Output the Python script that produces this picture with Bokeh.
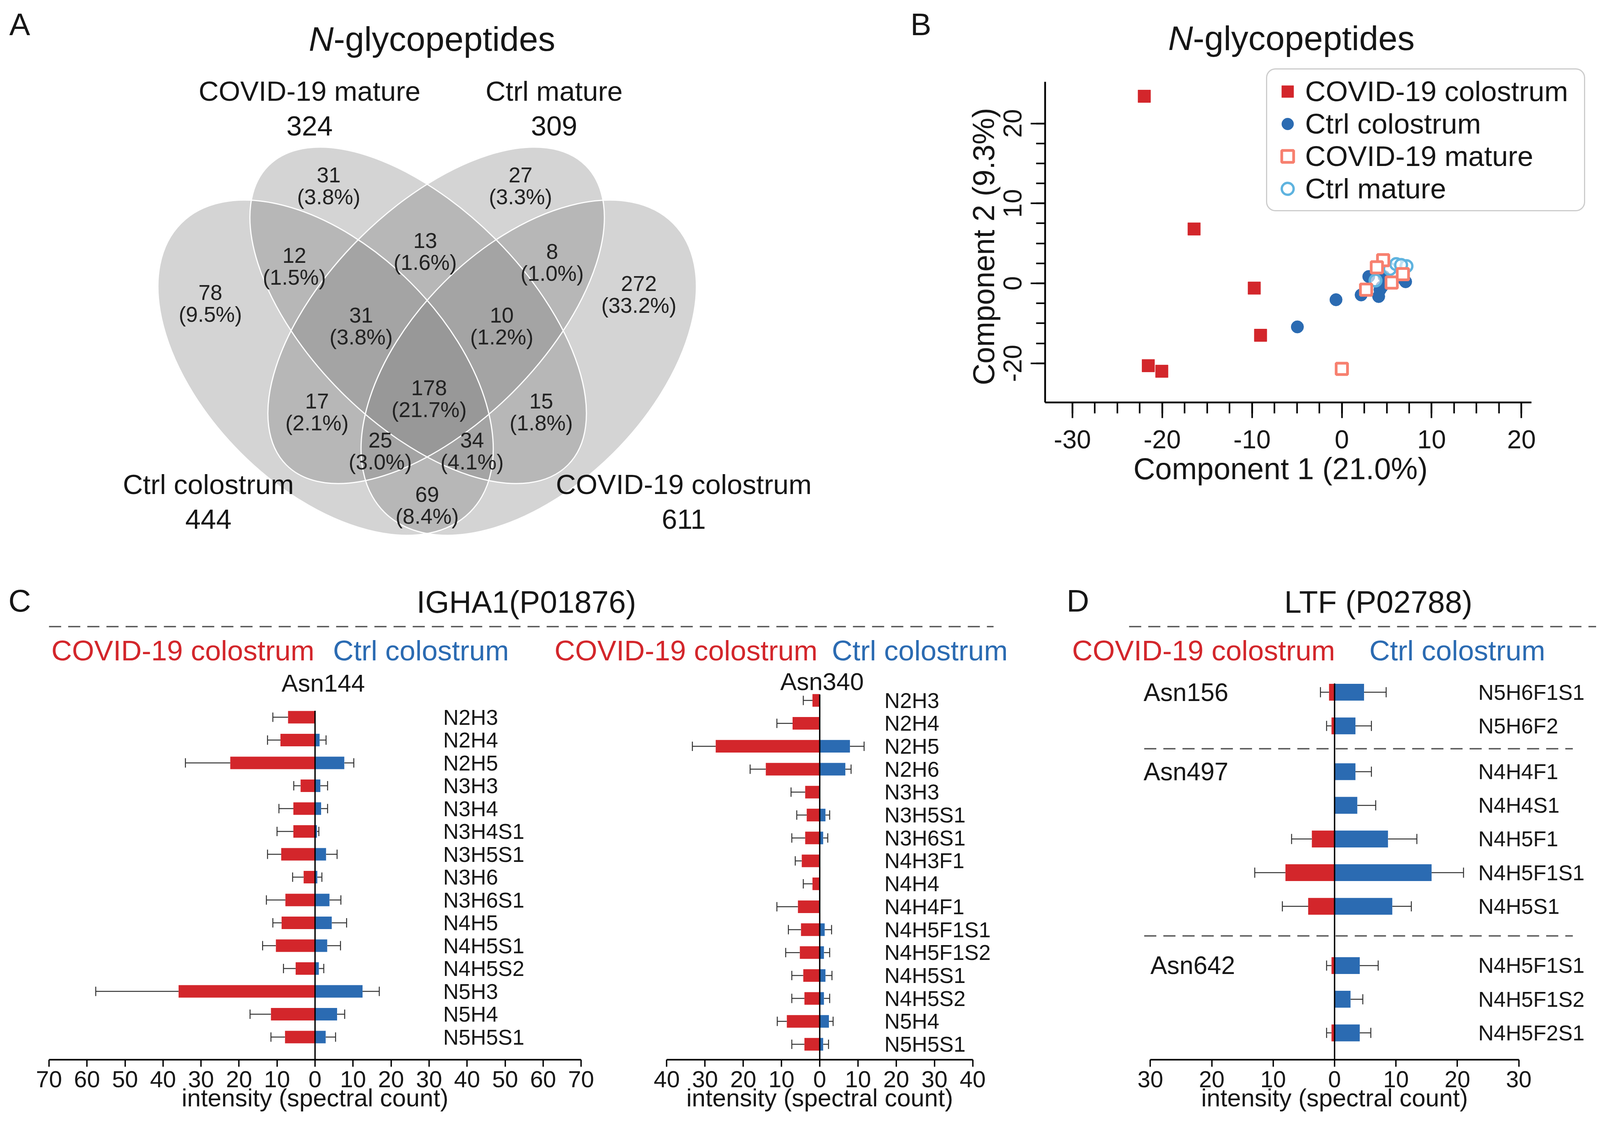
import numpy as np
from bokeh.plotting import figure
from bokeh.models import (Range1d, ColumnDataSource, LabelSet, Label, Whisker, TeeHead,
                          FixedTicker, Legend, LegendItem, Spacer, Plot, Title)
from bokeh.layouts import row, column
from bokeh.core.properties import value
from bokeh.embed import file_html
from bokeh.resources import INLINE

# ======================= DATA =======================
# Panel A: Venn diagram (N-glycopeptides)
venn_set_names = ["Ctrl colostrum", "COVID-19 mature", "Ctrl mature", "COVID-19 colostrum"]
venn_set_totals = [444, 324, 309, 611]
venn_region_keys = ["A", "B", "C", "D", "AB", "BC", "CD", "ABC", "BCD", "ABCD",
                    "AC", "BD", "ACD", "ABD", "AD"]
venn_region_counts = [78, 31, 27, 272, 12, 13, 8, 31, 10, 178, 17, 15, 25, 34, 69]

# Panel B: PCA scores
pca_covid_colostrum_x = [-22.0, -16.45, -9.75, -9.05, -21.55, -20.05]
pca_covid_colostrum_y = [23.4, 6.8, -0.6, -6.5, -10.3, -11.0]
pca_ctrl_colostrum_x = [-4.95, -0.65, 2.15, 4.1, 4.25, 3.0, 4.45, 4.7, 6.9, 7.1]
pca_ctrl_colostrum_y = [-5.45, -2.05, -1.45, -1.65, -0.8, 0.85, -0.45, 0.85, 0.5, 0.2]
pca_ctrl_mature_x = [3.75, 5.35, 6.05, 7.2, 6.6]
pca_ctrl_mature_y = [0.35, 1.8, 2.4, 2.15, 2.3]
pca_covid_mature_x = [4.6, 3.9, 2.7, 5.55, 6.8, 0.0]
pca_covid_mature_y = [2.9, 2.0, -0.8, 0.1, 1.15, -10.7]
pca_x_ticks = [-30, -20, -10, 0, 10, 20]
pca_y_ticks = [20, 10, 0, -10]
pca_y_tick_labels = ["20", "10", "0", "-20"]

# Panel C (left): IGHA1 Asn144
c1_glycans = ["N2H3", "N2H4", "N2H5", "N3H3", "N3H4", "N3H4S1", "N3H5S1", "N3H6",
              "N3H6S1", "N4H5", "N4H5S1", "N4H5S2", "N5H3", "N5H4", "N5H5S1"]
c1_covid = [7.1, 9.1, 22.3, 3.8, 5.7, 5.7, 8.9, 3.0, 7.8, 8.8, 10.3, 5.1, 35.9, 11.6, 7.9]
c1_covid_sd = [4.0, 3.4, 11.8, 1.8, 3.8, 4.3, 3.6, 2.9, 5.0, 2.3, 3.5, 3.2, 21.8, 5.5, 3.7]
c1_ctrl = [0.0, 1.2, 7.7, 1.4, 1.6, 0.5, 2.9, 0.6, 3.8, 4.4, 3.2, 1.0, 12.5, 5.8, 2.8]
c1_ctrl_sd = [0.0, 1.7, 2.5, 1.9, 1.7, 0.5, 2.9, 1.2, 3.0, 3.9, 3.5, 1.3, 4.4, 2.0, 2.6]

# Panel C (right): IGHA1 Asn340
c2_glycans = ["N2H3", "N2H4", "N2H5", "N2H6", "N3H3", "N3H5S1", "N3H6S1", "N4H3F1", "N4H4",
              "N4H4F1", "N4H5F1S1", "N4H5F1S2", "N4H5S1", "N4H5S2", "N5H4", "N5H5S1"]
c2_covid = [1.9, 7.1, 27.2, 14.1, 3.8, 3.4, 3.8, 4.7, 1.9, 5.7, 4.9, 5.2, 4.3, 4.0, 8.6, 4.0]
c2_covid_sd = [2.4, 4.1, 6.1, 4.1, 3.7, 2.6, 3.5, 1.7, 2.4, 5.5, 3.3, 3.7, 3.0, 3.3, 2.5, 3.3]
c2_ctrl = [0.0, 0.0, 7.9, 6.7, 0.0, 1.5, 0.9, 0.0, 0.0, 0.0, 1.3, 1.1, 1.5, 1.1, 2.4, 0.9]
c2_ctrl_sd = [0.0, 0.0, 3.7, 1.5, 0.0, 1.1, 1.2, 0.0, 0.0, 0.0, 1.8, 1.5, 1.7, 1.5, 1.1, 1.4]

# Panel D: LTF
d_sites = ["Asn156", "Asn156", "Asn497", "Asn497", "Asn497", "Asn497", "Asn497",
           "Asn642", "Asn642", "Asn642"]
d_glycans = ["N5H6F1S1", "N5H6F2", "N4H4F1", "N4H4S1", "N4H5F1", "N4H5F1S1", "N4H5S1",
             "N4H5F1S1", "N4H5F1S2", "N4H5F2S1"]
d_covid = [0.9, 0.5, 0.0, 0.0, 3.7, 8.0, 4.3, 0.5, 0.0, 0.5]
d_covid_sd = [1.4, 0.8, 0.0, 0.0, 3.3, 5.0, 4.2, 0.8, 0.0, 0.8]
d_ctrl = [4.8, 3.4, 3.4, 3.7, 8.7, 15.8, 9.4, 4.1, 2.6, 4.1]
d_ctrl_sd = [3.6, 2.6, 2.6, 3.0, 4.7, 5.2, 3.1, 3.0, 2.0, 1.8]

# ======================= STYLE / LAYOUT =======================
FONT = "Liberation Sans"
INK = "#161616"
RED = "#d3262b"
BLUE = "#2b6bb2"
SALMON = "#f7806f"
LIGHTBLUE = "#5eb3df"
ERR = "#333333"
DASH = "#555555"
OFF = 8          # page margin: canvas px = reference px - OFF
PAGE_W = 4086
STRIP_H = 170    # top strip with panel letters A/B and titles
ROW1_H = 1270
HEAD_H = 266
ROW2_H = 2857 - STRIP_H - ROW1_H - HEAD_H
HAS_FA = "frame_align" in Plot.properties()


def mkfig(**kw):
    p = figure(output_backend="svg", toolbar_location=None, **kw)
    if HAS_FA:
        p.frame_align = False
    p.background_fill_color = "white"
    p.border_fill_color = "white"
    p.outline_line_color = None
    p.xgrid.visible = False
    p.ygrid.visible = False
    return p


def lab(x, y, text, size, color=INK, align="center", style="normal"):
    return Label(x=x, y=y, text=text, text_font=FONT, text_font_size=size,
                 text_color=color, text_align=align, text_baseline="middle",
                 text_font_style=style)


def side_title(text, size, align, offset, standoff):
    return Title(text=text, align=align, offset=offset, standoff=standoff,
                 vertical_align="bottom", text_font=FONT, text_font_size=size,
                 text_font_style="normal", text_color=INK)


# ======================= TOP STRIP (letters + titles) =======================
T0 = OFF
pT = mkfig(width=PAGE_W, height=STRIP_H, x_range=Range1d(OFF, OFF + PAGE_W),
           y_range=Range1d(-(T0 + STRIP_H), -T0), x_axis_type=None, y_axis_type=None,
           min_border=0)
pT.add_layout(lab(58, -70, "A", "80px"))
pT.add_layout(lab(798, -107, "N", "88px", align="left", style="italic"))
pT.add_layout(lab(798 + 0.722 * 88, -107, "-glycopeptides", "88px", align="left"))
pT.add_layout(lab(2365, -70, "B", "80px"))
pT.add_layout(lab(2998, -105, "N", "88px", align="left", style="italic"))
pT.add_layout(lab(2998 + 0.722 * 88, -105, "-glycopeptides", "88px", align="left"))

# ======================= PANEL A (Venn) =======================
R1 = T0 + STRIP_H
A_W = 2330
pA = mkfig(width=A_W, height=ROW1_H, x_range=Range1d(OFF, OFF + A_W),
           y_range=Range1d(-(R1 + ROW1_H), -R1), x_axis_type=None, y_axis_type=None,
           min_border=0)

# ellipse geometry (layout, in page pixels): Ctrl colostrum, COVID-19 mature, Ctrl mature, COVID-19 colostrum
ell_x = [841, 1078, 1124, 1361]
ell_y = [-949, -815, -815, -949]
ell_w = [1046, 1084, 1084, 1046]
ell_h = [616, 556, 556, 616]
ell_ang = [-np.pi / 4, -np.pi / 4, np.pi / 4, np.pi / 4]
pA.ellipse(x=ell_x, y=ell_y, width=ell_w, height=ell_h, angle=ell_ang,
           fill_color="#828282", fill_alpha=0.34, line_color=None)
pA.ellipse(x=ell_x, y=ell_y, width=ell_w, height=ell_h, angle=ell_ang,
           fill_color=None, line_color="white", line_width=3)

region_pos = {"B": (849, 483), "C": (1340, 483), "AB": (761, 689), "BC": (1096, 651),
              "CD": (1421, 679), "A": (546, 784), "D": (1643, 761), "ABC": (932, 842),
              "BCD": (1292, 842), "ABCD": (1106, 1028), "AC": (819, 1062), "BD": (1393, 1062),
              "ACD": (981, 1162), "ABD": (1216, 1162), "AD": (1101, 1301)}
total = sum(venn_region_counts)
rx = [region_pos[k][0] for k in venn_region_keys]
ry = [region_pos[k][1] for k in venn_region_keys]
vsrc = ColumnDataSource(dict(
    x=rx, yc=[-(v - 28) for v in ry], yp=[-(v + 28) for v in ry],
    c=[str(c) for c in venn_region_counts],
    pct=["(%.1f%%)" % (100.0 * c / total) for c in venn_region_counts]))
for fld, ycol in (("c", "yc"), ("pct", "yp")):
    pA.add_layout(LabelSet(x="x", y=ycol, text=fld, source=vsrc, text_font=value(FONT),
                           text_font_size=value("55px"), text_color="#222222",
                           text_align="center", text_baseline="middle"))

set_pos = [(541, 1248), (800, 241), (1426, 241), (1758, 1248)]
for name, tot, (sx, sy) in zip(venn_set_names, venn_set_totals, set_pos):
    pA.add_layout(lab(sx, -sy, name, "71px"))
    pA.add_layout(lab(sx, -(sy + 89), str(tot), "71px"))

# ======================= PANEL B (PCA) =======================
B_W = PAGE_W - A_W
B_CL = OFF + A_W                      # canvas left (ref px)
B_L, B_T, B_B = 2683, R1, 1038        # frame left/top/bottom (ref px)
B_R = OFF + PAGE_W - 8                # frame right (ref px)
PXX, PXY = 22.99, 20.47               # px per data unit
B_XB = (-33.04, 21.12)                # drawn axis extents
B_YB = (-14.9, 25.2)
B_XR = (B_XB[0], B_XB[0] + (B_R - B_L) / PXX)
B_YR = (B_YB[0], B_YB[0] + (B_B - B_T) / PXY)
pB = mkfig(width=B_W, height=ROW1_H, x_range=Range1d(*B_XR), y_range=Range1d(*B_YR),
           min_border_left=B_L - B_CL, min_border_right=(B_CL + B_W) - B_R,
           min_border_top=0, min_border_bottom=(R1 + ROW1_H) - B_B)

r_ctrl_col = pB.scatter(pca_ctrl_colostrum_x, pca_ctrl_colostrum_y, marker="circle", size=32,
                        fill_color=BLUE, line_color=BLUE, line_width=1)
r_ctrl_mat = pB.scatter(pca_ctrl_mature_x, pca_ctrl_mature_y, marker="circle", size=30,
                        fill_color="white", fill_alpha=0.6, line_color=LIGHTBLUE, line_width=6)
r_cov_mat = pB.scatter(pca_covid_mature_x, pca_covid_mature_y, marker="square", size=29,
                       fill_color="white", line_color=SALMON, line_width=7)
r_cov_col = pB.scatter(pca_covid_colostrum_x, pca_covid_colostrum_y, marker="square", size=32,
                       fill_color=RED, line_color=RED, line_width=1)

xa = pB.xaxis[0]
xa.bounds = B_XB
xa.ticker = FixedTicker(ticks=pca_x_ticks, minor_ticks=list(np.arange(-30, 20.01, 2.5)))
xa.major_label_overrides = {t: str(t) for t in pca_x_ticks}
ya = pB.yaxis[0]
ya.bounds = B_YB
ya.ticker = FixedTicker(ticks=pca_y_ticks, minor_ticks=list(np.arange(-10, 20.01, 2.5)))
ya.major_label_overrides = {t: l for t, l in zip(pca_y_ticks, pca_y_tick_labels)}
ya.major_label_orientation = "vertical"
for ax, tout, mout in ((xa, 40, 28), (ya, 37, 23)):
    ax.axis_line_width = 4.5
    ax.axis_line_color = "black"
    ax.major_tick_line_width = 4
    ax.minor_tick_line_width = 4
    ax.major_tick_out = tout
    ax.major_tick_in = 0
    ax.minor_tick_out = mout
    ax.minor_tick_in = 0
    ax.major_label_text_font = FONT
    ax.major_label_text_font_size = "66px"
    ax.major_label_text_color = INK
xa.major_label_standoff = 31
ya.major_label_standoff = 23
# axis titles as side titles, positioned on the drawn axis extent
pB.add_layout(side_title("Component 1 (21.0%)", "77px", "left", 2909 - B_L, 8), "below")
pB.add_layout(side_title("Component 2 (9.3%)", "77px", "left", 44, 12), "left")

legend = Legend(items=[LegendItem(label="COVID-19 colostrum", renderers=[r_cov_col]),
                       LegendItem(label="Ctrl colostrum", renderers=[r_ctrl_col]),
                       LegendItem(label="COVID-19 mature", renderers=[r_cov_mat]),
                       LegendItem(label="Ctrl mature", renderers=[r_ctrl_mat])],
                location=(3249 - B_L, B_B - 549), margin=0, padding=14, spacing=0,
                glyph_width=76, glyph_height=76, label_height=76, label_standoff=7,
                label_width=700,
                label_text_font=FONT, label_text_font_size="73px", label_text_color=INK,
                border_line_color="#9a9a9a", border_line_width=3,
                background_fill_color="white", background_fill_alpha=1.0)
if "border_radius" in Legend.properties():
    legend.border_radius = 24
pB.add_layout(legend)

# ======================= HEADER (C and D titles / legends) =======================
H_TOP = R1 + ROW1_H
pH = mkfig(width=PAGE_W, height=HEAD_H, x_range=Range1d(OFF, OFF + PAGE_W),
           y_range=Range1d(-(H_TOP + HEAD_H), -H_TOP), x_axis_type=None, y_axis_type=None,
           min_border=0)
pH.segment(x0=[133, 2898], y0=[-1612, -1612], x1=[2551, 4094], y1=[-1612, -1612],
           line_color=DASH, line_width=3.5, line_dash="31 18")
pH.add_layout(lab(58, -1546, "C", "80px"))
pH.add_layout(lab(1355, -1549, "IGHA1(P01876)", "79px"))
pH.add_layout(lab(2767, -1546, "D", "80px"))
pH.add_layout(lab(3536, -1549, "LTF (P02788)", "79px"))
for rx0, bx0 in ((139, 860), (1427, 2137), (2752, 3513)):
    pH.add_layout(lab(rx0, -1673, "COVID-19 colostrum", "73px", color=RED, align="left"))
    pH.add_layout(lab(bx0, -1673, "Ctrl colostrum", "73px", color=BLUE, align="left"))

# ======================= BAR PANELS =======================
ROW_TOP = H_TOP + HEAD_H
BOT = 144
FRAME_B = ROW_TOP + ROW2_H - BOT


def butterfly(canvas_l, width, zero_ref, pxu, xlim, row0_ref, row_px, zero_top, pos, glycans,
              cov, cov_sd, ctl, ctl_sd, bar_h, label_x, tick_size, head):
    xr = ((canvas_l - zero_ref) / pxu, (canvas_l + width - zero_ref) / pxu)
    yr = (-(FRAME_B - row0_ref) / row_px, (row0_ref - ROW_TOP) / row_px)
    p = mkfig(width=width, height=ROW2_H, x_range=Range1d(*xr), y_range=Range1d(*yr),
              min_border_left=0, min_border_right=0, min_border_top=0, min_border_bottom=BOT)
    p.yaxis.visible = False
    y = [-v for v in pos]
    p.hbar(y=y, left=[-v for v in cov], right=0, height=bar_h, fill_color=RED, line_color=None)
    p.hbar(y=y, left=0, right=ctl, height=bar_h, fill_color=BLUE, line_color=None)
    ri = [i for i in range(len(pos)) if cov[i] > 0]
    rsrc = ColumnDataSource(dict(base=[y[i] for i in ri],
                                 lower=[-(cov[i] + cov_sd[i]) for i in ri],
                                 upper=[-cov[i] for i in ri]))
    p.add_layout(Whisker(source=rsrc, base="base", lower="lower", upper="upper",
                         dimension="width", line_color=ERR, line_width=2.5,
                         lower_head=TeeHead(size=head, line_color=ERR, line_width=2.5),
                         upper_head=None))
    bi = [i for i in range(len(pos)) if ctl[i] > 0]
    bsrc = ColumnDataSource(dict(base=[y[i] for i in bi],
                                 lower=[ctl[i] for i in bi],
                                 upper=[ctl[i] + ctl_sd[i] for i in bi]))
    p.add_layout(Whisker(source=bsrc, base="base", lower="lower", upper="upper",
                         dimension="width", line_color=ERR, line_width=2.5,
                         upper_head=TeeHead(size=head, line_color=ERR, line_width=2.5),
                         lower_head=None))
    p.segment(x0=[0], y0=[zero_top], x1=[0], y1=[yr[0]], line_color="black", line_width=3.5)
    gsrc = ColumnDataSource(dict(x=[label_x] * len(pos), y=y, t=glycans))
    p.add_layout(LabelSet(x="x", y="y", text="t", source=gsrc, text_font=value(FONT),
                          text_font_size=value("55px"), text_color=INK,
                          text_align="left", text_baseline="middle"))
    ax = p.xaxis[0]
    ticks = list(range(-xlim, xlim + 1, 10))
    ax.bounds = (-xlim, xlim)
    ax.ticker = FixedTicker(ticks=ticks)
    ax.major_label_overrides = {t: str(abs(t)) for t in ticks}
    ax.axis_line_width = 4
    ax.axis_line_color = "black"
    ax.major_tick_line_width = 3.5
    ax.major_tick_out = 18
    ax.major_tick_in = 0
    ax.minor_tick_out = 0
    ax.minor_tick_in = 0
    ax.major_label_text_font = FONT
    ax.major_label_text_font_size = tick_size
    ax.major_label_text_color = INK
    ax.major_label_standoff = 11
    p.add_layout(side_title("intensity (spectral count)", "63px", "center", 0, -26), "below")
    return p


C1_L, C1_W = OFF, 1612
C2_L, C2_W = C1_L + C1_W, 972
SP_W = 162
D_L = C2_L + C2_W + SP_W
D_W = OFF + PAGE_W - D_L

pos1 = list(range(len(c1_glycans)))
pC1 = butterfly(C1_L, C1_W, 814, 9.73, 70, 1844, 58.5, 0.28, pos1, c1_glycans,
                c1_covid, c1_covid_sd, c1_ctrl, c1_ctrl_sd, 0.55, 33.7, "60px", 24)
pC1.add_layout(lab(2.16, 1.5, "Asn144", "63px"))

pos2 = list(range(len(c2_glycans)))
pC2 = butterfly(C2_L, C2_W, 2106, 9.79, 40, 1801, 58.7, 0.26, pos2, c2_glycans,
                c2_covid, c2_covid_sd, c2_ctrl, c2_ctrl_sd, 0.55, 16.9, "60px", 24)
pC2.add_layout(lab(0.6, 0.82, "Asn340", "63px"))

site_order = []
for s in d_sites:
    if s not in site_order:
        site_order.append(s)
group_extra = {site_order[0]: 0.0, site_order[1]: 0.36, site_order[2]: 1.12}
posd = [i + group_extra[s] for i, s in enumerate(d_sites)]
pD = butterfly(D_L, D_W, 3424, 15.72, 30, 1780, 86.2, 0.26, posd, d_glycans,
               d_covid, d_covid_sd, d_ctrl, d_ctrl_sd, 0.5, 23.4, "59px", 26)
first_pos = [posd[d_sites.index(s)] for s in site_order]
site_lx = [-31.1, -31.1, -30.0]
pD.add_layout(LabelSet(x="x", y="y", text="t",
                       source=ColumnDataSource(dict(x=site_lx, y=[-v for v in first_pos],
                                                    t=site_order)),
                       text_font=value(FONT), text_font_size=value("64px"), text_color=INK,
                       text_align="left", text_baseline="middle"))
sep_y = []
for g in range(1, len(site_order)):
    last_prev = max(posd[i] for i, s in enumerate(d_sites) if s == site_order[g - 1])
    sep_y.append(-(last_prev + first_pos[g]) / 2.0)
pD.segment(x0=[-31.0] * len(sep_y), y0=sep_y, x1=[38.8] * len(sep_y), y1=sep_y,
           line_color=DASH, line_width=3.5, line_dash="31 18")

layout = column(pT, row(pA, pB), pH,
                row(pC1, pC2, Spacer(width=SP_W, height=ROW2_H), pD))
open("out.html", "w").write(file_html(layout, INLINE))
